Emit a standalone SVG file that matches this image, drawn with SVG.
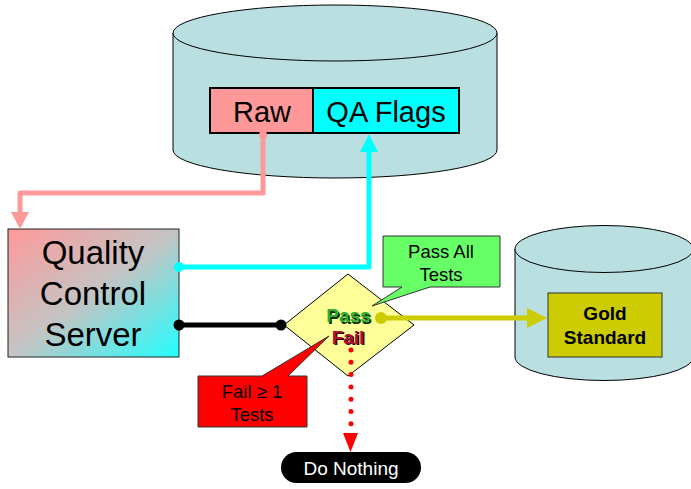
<svg xmlns="http://www.w3.org/2000/svg" width="691" height="489" viewBox="0 0 691 489">
<defs>
<linearGradient id="qcs" x1="0" y1="0" x2="1" y2="1">
<stop offset="0" stop-color="#ff9999"/>
<stop offset="0.5" stop-color="#c4c4c4"/>
<stop offset="1" stop-color="#22ffff"/>
</linearGradient>
</defs>
<style>
text{font-family:"Liberation Sans",Arial,sans-serif;text-anchor:middle}
.cyl{fill:#b9dfe1;stroke:#000;stroke-width:1}
.big{font-size:29px}
.qcs{font-size:33px}
.med{font-size:18.5px}
.pf{font-size:19px;font-weight:bold}
.bold{font-weight:bold;font-size:19px}
.conn{fill:none;stroke-width:5;stroke-linejoin:round}
</style>

<g id="main-db">
<path class="cyl" d="M173,33 V150 A162,28 0 0 0 497,150 V33"/>
<ellipse class="cyl" cx="335" cy="33" rx="162" ry="28"/>
<g id="raw">
<rect x="210" y="88" width="103" height="45" fill="#ff9999" stroke="#000" stroke-width="2"/>
<text class="big" x="262" y="122">Raw</text>
</g>
<g id="qaflags">
<rect x="313" y="88" width="146" height="45" fill="#00ffff" stroke="#000" stroke-width="2"/>
<text class="big" x="386" y="122">QA Flags</text>
</g>
</g>

<g id="gold-db">
<path class="cyl" d="M515,249 V357 A89,23.5 0 0 0 693,357 V249"/>
<ellipse class="cyl" cx="604" cy="249" rx="89" ry="23.5"/>
<g id="gold">
<rect x="548" y="293" width="114" height="64" fill="#cccc00" stroke="#333" stroke-width="1"/>
<text class="bold" x="605" y="320">Gold</text>
<text class="bold" x="605" y="344">Standard</text>
</g>
</g>

<g id="qcs-node">
<rect x="8" y="229" width="171" height="128" fill="url(#qcs)" stroke="#222" stroke-width="1"/>
<text class="qcs" x="93" y="264">Quality</text>
<text class="qcs" x="93" y="305">Control</text>
<text class="qcs" x="93" y="346">Server</text>
</g>

<g id="decision">
<path d="M348,274 L414,325 L348,376 L284,325 Z" fill="#ffff99" stroke="#000" stroke-width="1"/>
<text class="pf" x="350" y="323.5" fill="#003300">Pass</text>
<text class="pf" x="348.5" y="322" fill="#33aa33">Pass</text>
<text class="pf" x="349.5" y="345" fill="#330000">Fail</text>
<text class="pf" x="348" y="343.5" fill="#aa1133">Fail</text>
</g>

<g id="pass-callout">
<path d="M383,236 H500 V287 H430 L372,306 L402,287 H383 Z" fill="#66ff66" stroke="#333" stroke-width="1"/>
<text class="med" x="441" y="258">Pass All</text>
<text class="med" x="441" y="281">Tests</text>
</g>

<g id="fail-callout">
<path d="M198,376 H262 L329,336 L288,376 H307 V427 H198 Z" fill="#ff0000" stroke="#333" stroke-width="1"/>
<text class="med" x="252" y="398">Fail ≥ 1</text>
<text class="med" x="252" y="421">Tests</text>
</g>

<g id="do-nothing">
<rect x="281" y="452" width="140" height="31" rx="15.5" fill="#000"/>
<text class="med" x="351" y="475" fill="#fff" style="font-size:19px">Do Nothing</text>
</g>

<g id="connectors">
<circle cx="263" cy="135" r="4" fill="#ff9999"/>
<path class="conn" stroke="#ff9999" d="M263,135 V193 H20 V213"/>
<path fill="#ff9999" d="M11,212 H29 L20,229 Z"/>
<circle cx="179" cy="267" r="5" fill="#00ffff"/>
<path class="conn" stroke="#00ffff" d="M179,267 H369 V151"/>
<path fill="#00ffff" d="M360,152 H378 L369,134 Z"/>
<circle cx="179" cy="325" r="5.5" fill="#000"/>
<circle cx="281" cy="325" r="5.5" fill="#000"/>
<path class="conn" stroke="#000" d="M179,325 H281"/>
<circle cx="381" cy="318" r="6" fill="#cccc00"/>
<path class="conn" stroke="#cccc00" d="M381,318 H528"/>
<path fill="#cccc00" d="M527,308 V328 L547,318 Z"/>
<path fill="none" stroke="#ff0000" stroke-width="5" stroke-linecap="round" stroke-dasharray="0 12.3" d="M351,350 V430"/>
<path fill="#ff0000" d="M343,433 L358,433 L350.5,452 Z"/>
</g>
</svg>
